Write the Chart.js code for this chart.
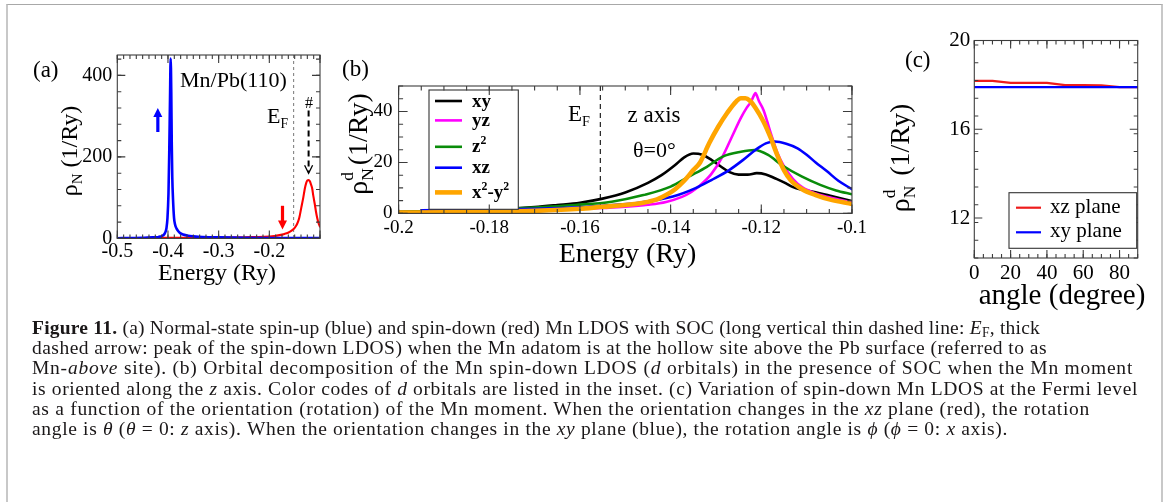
<!DOCTYPE html>
<html><head><meta charset="utf-8">
<script src="https://cdn.jsdelivr.net/npm/chart.js@4.4.1/dist/chart.umd.min.js"></script>
<style>
html,body{margin:0;padding:0;background:#fff;}
#page{position:relative;width:1167px;height:502px;overflow:hidden;background:#fff;}
#frame{position:absolute;left:6px;top:4px;width:1157px;height:600px;border-top:1px solid #a8a8a8;border-left:2px solid #c8c8c8;border-right:2px solid #c8c8c8;box-sizing:border-box;}
.cv{position:absolute;}
#caption{position:absolute;left:32px;top:318px;font-family:"Liberation Serif","Times New Roman",serif;font-size:19.5px;line-height:20.2px;color:#1a1718;}
#caption div{white-space:nowrap;}
#caption span{display:inline;}
#caption sub{font-size:70%;vertical-align:baseline;position:relative;top:0.25em;line-height:0;}
</style></head><body>
<div id="page">
<div id="frame"></div>
<canvas id="ca" class="cv" width="340" height="300" style="left:0;top:0"></canvas>
<canvas id="cb" class="cv" width="540" height="300" style="left:330px;top:0"></canvas>
<canvas id="cc" class="cv" width="297" height="320" style="left:870px;top:0"></canvas>
<div id="caption">
<div><span><b>Figure 11.</b> (a) Normal-state spin-up (blue) and spin-down (red) Mn LDOS with SOC (long vertical thin dashed line: <i>E</i><sub>F</sub>, thick</span></div>
<div><span>dashed arrow: peak of the spin-down LDOS) when the Mn adatom is at the hollow site above the Pb surface (referred to as</span></div>
<div><span>Mn-<i>above</i> site). (b) Orbital decomposition of the Mn spin-down LDOS (<i>d</i> orbitals) in the presence of SOC when the Mn moment</span></div>
<div><span>is oriented along the <i>z</i> axis. Color codes of <i>d</i> orbitals are listed in the inset. (c) Variation of spin-down Mn LDOS at the Fermi level</span></div>
<div><span>as a function of the orientation (rotation) of the Mn moment. When the orientation changes in the <i>xz</i> plane (red), the rotation</span></div>
<div><span>angle is <i>θ</i> (<i>θ</i> = 0: <i>z</i> axis). When the orientation changes in the <i>xy</i> plane (blue), the rotation angle is <i>ϕ</i> (<i>ϕ</i> = 0: <i>x</i> axis).</span></div>
</div>
</div>
<script>
// ---------------- DATA ----------------
// Panel (a): Mn LDOS, energy in Ry
const aUpE = [-0.5,-0.47,-0.45,-0.43,-0.42,-0.415,-0.41,-0.406,-0.403,-0.401,-0.399,-0.3975,-0.396,-0.3947,-0.3935,-0.3925,-0.3915,-0.390,-0.388,-0.386,-0.383,-0.38,-0.376,-0.37,-0.36,-0.35,-0.34,-0.32,-0.3,-0.25,-0.2,-0.15,-0.1];
const aUp  = [0.5,1,1.5,2.5,3,4.5,7,13,25,50,110,210,340,441,360,230,150,95,50,34,24,18,13,9.5,6.5,5,4,3,2.5,1.5,1,1,0.8];
const aDnE = [-0.5,-0.45,-0.4,-0.35,-0.3,-0.25,-0.21,-0.19,-0.18,-0.17,-0.163,-0.156,-0.15,-0.145,-0.141,-0.137,-0.133,-0.13,-0.127,-0.125,-0.1225,-0.12,-0.118,-0.1155,-0.113,-0.11,-0.108,-0.1055,-0.103,-0.1];
const aDn  = [0.5,1,1.5,1.5,2,3,4,6,8,11,14,19,26,36,50,75,100,122,137,142,143,140,133,123,103,82,66,50,38,29];
const aFermi = -0.152;
const aXTicks = [-0.5,-0.4,-0.3,-0.2];
const aYTicks = [0,200,400];
// Panel (b): orbital decomposition, spin-down
const bLabels = ['xy','yz','z^2','xz','x^2-y^2'];
const bXyE = [-0.2,-0.19,-0.18,-0.17,-0.165,-0.16,-0.155,-0.15,-0.145,-0.142,-0.139,-0.137,-0.135,-0.133,-0.131,-0.129,-0.127,-0.125,-0.123,-0.121,-0.119,-0.117,-0.115,-0.113,-0.111,-0.108,-0.105,-0.1];
const bXy  = [0.6,1.0,1.5,2.5,3.3,4.2,5.8,8.2,12,15,19,22,23.5,23,21,18.5,16.2,15.2,15.2,15.8,15.3,13.8,12.2,10.3,9.3,8.3,7.0,4.8];
const bYzE = [-0.2,-0.19,-0.18,-0.17,-0.16,-0.155,-0.15,-0.145,-0.141,-0.1375,-0.1355,-0.1335,-0.131,-0.1285,-0.1265,-0.1245,-0.1232,-0.1222,-0.1217,-0.1213,-0.1205,-0.1195,-0.118,-0.1165,-0.115,-0.113,-0.111,-0.108,-0.105,-0.1];
const bYz  = [0.3,0.5,0.8,1.2,1.7,2.1,2.6,3.4,4.5,6.5,8.3,11,15.5,22.5,30,37.5,41.5,44,46,47.2,44,40.5,32,24,18.5,13.5,10.3,7.8,6.3,4.3];
const bZ2E = [-0.2,-0.19,-0.18,-0.17,-0.161,-0.153,-0.146,-0.14,-0.136,-0.132,-0.1285,-0.1245,-0.1215,-0.1185,-0.1155,-0.111,-0.107,-0.1035,-0.1];
const bZ2  = [0.5,1.0,1.5,2.3,3.3,4.6,7.2,10.5,14.4,18.3,22.3,24.2,24.9,23,19,14.4,11.2,9,7.5];
const bXzE = [-0.195,-0.18,-0.17,-0.16,-0.156,-0.147,-0.1395,-0.1345,-0.131,-0.127,-0.124,-0.1213,-0.119,-0.117,-0.1145,-0.112,-0.11,-0.108,-0.1055,-0.103,-0.1];
const bXz  = [1.2,1.5,1.8,2.4,2.9,4.2,6.6,9.9,13.1,17.1,21,24.9,27.5,28.2,27.3,25.5,23,20,16.5,12.8,9.5];
const bX2E = [-0.2,-0.19,-0.18,-0.17,-0.16,-0.155,-0.15,-0.146,-0.143,-0.141,-0.139,-0.137,-0.135,-0.1335,-0.1315,-0.1295,-0.1275,-0.1255,-0.1245,-0.1235,-0.1225,-0.1213,-0.1195,-0.118,-0.1165,-0.115,-0.1135,-0.111,-0.108,-0.105,-0.1];
const bX2  = [0.3,0.4,0.6,1.0,1.8,2.6,3.3,4.2,5.5,7.2,9.5,12.8,17,20,27.5,34,39.5,44,45.2,45.2,44.2,41.5,36,30,23,17,13,9.5,7.2,5.5,3.7];
const bFermi = -0.1555;
// Panel (c): LDOS at E_F vs moment orientation angle (degree)
const cAngle = [0,10,20,30,40,50,60,70,80,90];
const cXZ = [18.18,18.18,18.09,18.09,18.09,17.99,17.99,17.98,17.90,17.90];
const cXY = [17.90,17.90,17.90,17.90,17.90,17.90,17.90,17.90,17.90,17.90];
const cLabels = ['xz plane','xy plane'];

// ---------------- HELPERS ----------------
const FAM = '"Liberation Serif","Times New Roman",serif';
function F(s,it,bd){return (it?'italic ':'')+(bd?'bold ':'')+s+'px '+FAM;}
function pts(xs,ys){return xs.map((x,i)=>({x:x,y:ys[i]}));}
function parseSup(str){const out=[];const re=/\^(.)/g;let last=0,m;while((m=re.exec(str))){if(m.index>last)out.push({t:str.slice(last,m.index)});out.push({t:m[1],m:'sup'});last=re.lastIndex;}if(last<str.length)out.push({t:str.slice(last)});return out;}
function pw(ctx,parts,size,bd){let w=0;for(const p of parts){if(p.ss){ctx.font=F(size*0.62,false,bd);w+=Math.max(ctx.measureText(p.ss[0]).width,ctx.measureText(p.ss[1]).width)+(p.gap||0);}else{ctx.font=F(p.m?size*0.62:size,p.i,bd);w+=ctx.measureText(p.t).width;}}return w;}
function dp(ctx,parts,x,y,size,align,bd,color){
  const w=pw(ctx,parts,size,bd);let cx=align==='center'?x-w/2:align==='right'?x-w:x;
  ctx.fillStyle=color||'#000';ctx.textBaseline='alphabetic';ctx.textAlign='left';
  for(const p of parts){
    if(p.ss){ctx.font=F(size*0.62,false,bd);ctx.fillText(p.ss[0],cx,y-size*0.5);ctx.fillText(p.ss[1],cx,y+size*0.2);
      cx+=Math.max(ctx.measureText(p.ss[0]).width,ctx.measureText(p.ss[1]).width)+(p.gap||0);}
    else{const s=p.m?size*0.62:size;ctx.font=F(s,p.i,bd);const dy=p.m==='sub'?size*0.22:p.m==='sup'?-size*0.42:0;ctx.fillText(p.t,cx,y+dy);cx+=ctx.measureText(p.t).width;}
  }
}
function vtext(ctx,parts,x,y,size){ctx.save();ctx.translate(x,y);ctx.rotate(-Math.PI/2);dp(ctx,parts,0,0,size,'center');ctx.restore();}
function arrowV(ctx,x,y1,y2,color,w,hw,hl,dash,open){
  ctx.save();ctx.strokeStyle=color;ctx.fillStyle=color;ctx.lineWidth=w;const dir=Math.sign(y2-y1);
  if(dash)ctx.setLineDash(dash);ctx.beginPath();ctx.moveTo(x,y1);ctx.lineTo(x,y2-dir*(open?1:hl*0.8));ctx.stroke();ctx.setLineDash([]);
  ctx.beginPath();ctx.moveTo(x-hw/2,y2-dir*hl);ctx.lineTo(x,y2);ctx.lineTo(x+hw/2,y2-dir*hl);
  if(open){ctx.lineWidth=1.3;ctx.stroke();}else{ctx.closePath();ctx.fill();}
  ctx.restore();
}
function frameTicks(chart,o){
  const {ctx,chartArea:a,scales:{x,y}}=chart;ctx.save();ctx.strokeStyle='#3c3c3c';ctx.lineWidth=1.1;
  const one=(sc,v,len,horiz)=>{const p=sc.getPixelForValue(v);ctx.beginPath();
      if(horiz){ctx.moveTo(p,a.bottom);ctx.lineTo(p,a.bottom-len);ctx.moveTo(p,a.top);ctx.lineTo(p,a.top+len);}
      else{ctx.moveTo(a.left,p);ctx.lineTo(a.left+len,p);ctx.moveTo(a.right,p);ctx.lineTo(a.right-len,p);}
      ctx.stroke();};
  const run=(sc,step,len,horiz)=>{const n=Math.floor((sc.max-sc.min)/step+1e-6);for(let i=0;i<=n;i++)one(sc,sc.min+i*step,len,horiz);};
  run(x,o.xMinor,o.minLen,true);run(y,o.yMinor,o.minLen,false);
  o.xMajor.forEach(v=>one(x,v,o.majLen,true));o.yMajor.forEach(v=>one(y,v,o.majLen,false));
  ctx.strokeRect(a.left,a.top,a.right-a.left,a.bottom-a.top);ctx.restore();
}
function fmt(v){return String(parseFloat(v.toFixed(3)));}
function opts(c){
  return {responsive:false,animation:false,devicePixelRatio:1,
    layout:{autoPadding:false,padding:{left:0,right:c.padR,top:c.top,bottom:0}},
    plugins:{legend:{display:false},tooltip:{enabled:false}},
    elements:{point:{radius:0},line:{cubicInterpolationMode:'monotone',borderCapStyle:'round',borderJoinStyle:'round'}},
    scales:{
      x:{type:'linear',min:c.xmin,max:c.xmax,grid:{display:false,drawTicks:false},border:{display:false},
        afterFit:s=>{s.height=c.xH;},
        afterBuildTicks:s=>{s.ticks=c.xTicks.map(v=>({value:v}));},
        ticks:{font:{family:FAM,size:c.fs},color:'#000',padding:c.xPad,maxRotation:0,autoSkip:false,callback:v=>fmt(v)}},
      y:{type:'linear',min:c.ymin,max:c.ymax,grid:{display:false,drawTicks:false},border:{display:false},
        afterFit:s=>{s.width=c.yW;},
        afterBuildTicks:s=>{s.ticks=c.yTicks.map(v=>({value:v}));},
        ticks:{font:{family:FAM,size:c.fs},color:'#000',padding:c.yPad,autoSkip:false,callback:v=>fmt(v)}}
    }};
}

// ---------------- PANEL A ----------------
const OA={x:0,y:0};
new Chart(document.getElementById('ca'),{type:'line',
  data:{datasets:[
    {data:pts(aUpE,aUp),borderColor:'#0000ff',borderWidth:2.6,order:0},
    {data:pts(aDnE,aDn),borderColor:'#ff0000',borderWidth:2.1,order:1}]},
  options:opts({padR:20,top:55,xH:61.6,yW:117.3,xmin:-0.5,xmax:-0.1,ymin:0,ymax:450,xTicks:aXTicks,yTicks:aYTicks,fs:20,xPad:1,yPad:5}),
  plugins:[{id:'pa',
    beforeDatasetsDraw(ch){const {ctx,chartArea:a,scales:{x}}=ch;const px=x.getPixelForValue(aFermi);
      ctx.save();ctx.setLineDash([3,3]);ctx.strokeStyle='#777';ctx.lineWidth=1;ctx.beginPath();ctx.moveTo(px,a.top);ctx.lineTo(px,a.bottom);ctx.stroke();ctx.restore();},
    afterDraw(ch){const {ctx,scales:{x,y}}=ch;
      frameTicks(ch,{xMinor:0.0125,yMinor:40,xMajor:[-0.5,-0.4,-0.3,-0.2,-0.1],yMajor:[0,200,400],minLen:4,majLen:8});
      const o=OA;
      dp(ctx,[{t:'(a)'}],33-o.x,77-o.y,23,'left');
      dp(ctx,[{t:'Mn/Pb(110)'}],180-o.x,87-o.y,22,'left');
      dp(ctx,[{t:'E'},{t:'F',m:'sub'}],267-o.x,123-o.y,22,'left');
      dp(ctx,[{t:'#'}],309-o.x,108-o.y,16,'center');
      arrowV(ctx,x.getPixelForValue(-0.42),y.getPixelForValue(261),y.getPixelForValue(320),'#0000ff',3.2,9,9);
      arrowV(ctx,x.getPixelForValue(-0.174),y.getPixelForValue(80),y.getPixelForValue(22),'#ff0000',3.2,9,9);
      arrowV(ctx,x.getPixelForValue(-0.1225),y.getPixelForValue(314),y.getPixelForValue(160),'#000',2,8,8,[6,4],true);
      dp(ctx,[{t:'Energy (Ry)'}],217-o.x,280-o.y,24,'center');
      vtext(ctx,[{t:'ρ'},{t:'N',m:'sub'},{t:' (1/Ry)'}],77-o.x,151-o.y,24);
    }}]
});

// ---------------- PANEL B ----------------
const OB={x:330,y:0};
const bColors=['#000000','#ff00ff','#0a8c0a','#0000ff','#ffa500'];
const bWidths=[2.6,2.6,2.6,2.6,4.6];
const bSeries=[pts(bXyE,bXy),pts(bYzE,bYz),pts(bZ2E,bZ2),pts(bXzE,bXz),pts(bX2E,bX2)];
const bOrder=[4,3,2,1,0];
new Chart(document.getElementById('cb'),{type:'line',
  data:{datasets:bSeries.map((d,i)=>({label:bLabels[i],data:d,borderColor:bColors[i],borderWidth:bWidths[i],order:bOrder[i]}))},
  options:opts({padR:12,top:86,xH:86.6,yW:68.6,xmin:-0.2,xmax:-0.1,ymin:0,ymax:50,xTicks:[-0.2,-0.18,-0.16,-0.14,-0.12,-0.1],yTicks:[0,20,40],fs:19,xPad:3,yPad:6}),
  plugins:[{id:'pb',
    beforeDatasetsDraw(ch){const {ctx,chartArea:a,scales:{x}}=ch;const px=x.getPixelForValue(bFermi);
      ctx.save();ctx.setLineDash([5,4]);ctx.strokeStyle='#222';ctx.lineWidth=1.2;ctx.beginPath();ctx.moveTo(px,a.top);ctx.lineTo(px,a.bottom);ctx.stroke();ctx.restore();},
    afterDraw(ch){const {ctx}=ch;const o=OB;
      ctx.save();ctx.fillStyle='#fff';ctx.strokeStyle='#333';ctx.lineWidth=1.1;
      ctx.fillRect(429-o.x,90-o.y,89.3,119.3);ctx.strokeRect(429-o.x,90-o.y,89.3,119.3);
      const rows=[101,120.4,146.8,167.7,192.4];
      ch.data.datasets.forEach((ds,i)=>{ctx.strokeStyle=ds.borderColor;ctx.lineWidth=ds.borderWidth;ctx.beginPath();
        ctx.moveTo(435-o.x,rows[i]-o.y);ctx.lineTo(462-o.x,rows[i]-o.y);ctx.stroke();
        dp(ctx,parseSup(ds.label),472-o.x,rows[i]+5.5-o.y,19,'left',true);});
      ctx.restore();
      frameTicks(ch,{xMinor:0.005,yMinor:5,xMajor:[-0.2,-0.18,-0.16,-0.14,-0.12,-0.1],yMajor:[0,20,40],minLen:4.5,majLen:9});
      dp(ctx,[{t:'(b)'}],342-o.x,76-o.y,23,'left');
      dp(ctx,[{t:'E'},{t:'F',m:'sub'}],568-o.x,121.4-o.y,23,'left');
      dp(ctx,[{t:'z axis'}],627.5-o.x,121.5-o.y,23,'left');
      dp(ctx,[{t:'θ=0°'}],633-o.x,157-o.y,22,'left');
      dp(ctx,[{t:'Energy (Ry)'}],627.5-o.x,261.7-o.y,28,'center');
      vtext(ctx,[{t:'ρ'},{ss:['d','N'],gap:3},{t:'(1/Ry)'}],367-o.x,144-o.y,28);
    }}]
});

// ---------------- PANEL C ----------------
const OC={x:870,y:0};
new Chart(document.getElementById('cc'),{type:'line',
  data:{datasets:[
    {label:cLabels[0],data:pts(cAngle,cXZ),borderColor:'#ee1c1c',borderWidth:2.2,order:1,cubicInterpolationMode:'default',tension:0},
    {label:cLabels[1],data:pts(cAngle,cXY),borderColor:'#0000ff',borderWidth:2.2,order:0,cubicInterpolationMode:'default',tension:0}]},
  options:opts({padR:29.3,top:40.5,xH:62,yW:104.3,xmin:0,xmax:90,ymin:10.2,ymax:20,xTicks:[0,20,40,60,80],yTicks:[12,16,20],fs:21,xPad:3,yPad:4}),
  plugins:[{id:'pc',
    afterDraw(ch){const {ctx}=ch;const o=OC;
      frameTicks(ch,{xMinor:5,yMinor:0.8,xMajor:[0,20,40,60,80],yMajor:[12,16,20],minLen:4,majLen:8});
      ctx.save();ctx.fillStyle='#fff';ctx.strokeStyle='#333';ctx.lineWidth=1.1;
      ctx.fillRect(1009-o.x,192.7-o.y,127.7,55.6);ctx.strokeRect(1009-o.x,192.7-o.y,127.7,55.6);
      const rows=[207.7,232.3];
      ch.data.datasets.forEach((ds,i)=>{ctx.strokeStyle=ds.borderColor;ctx.lineWidth=2.2;ctx.beginPath();
        ctx.moveTo(1016-o.x,rows[i]-o.y);ctx.lineTo(1041-o.x,rows[i]-o.y);ctx.stroke();
        dp(ctx,[{t:ds.label}],1050-o.x,rows[i]+5-o.y,21,'left');});
      ctx.restore();
      dp(ctx,[{t:'(c)'}],905-o.x,67-o.y,23,'left');
      dp(ctx,[{t:'angle (degree)'}],1062-o.x,304-o.y,29,'center');
      vtext(ctx,[{t:'ρ'},{ss:['d','N'],gap:3},{t:' (1/Ry)'}],909-o.x,158-o.y,28);
    }}]
});

// ---------------- caption line fitting ----------------
const capRight=[1040,1047,1133,1138,1090,1008];
function fitCaption(){
  const page=document.getElementById('page').getBoundingClientRect();
  document.querySelectorAll('#caption span').forEach((sp,i)=>{
    sp.style.letterSpacing='0px';
    const r=sp.getBoundingClientRect();const n=sp.textContent.length;
    const ls=(capRight[i]-(r.right-page.left))/n;sp.style.letterSpacing=ls.toFixed(3)+'px';
  });
}
fitCaption();
if(document.fonts&&document.fonts.ready)document.fonts.ready.then(fitCaption);
</script>
</body></html>
